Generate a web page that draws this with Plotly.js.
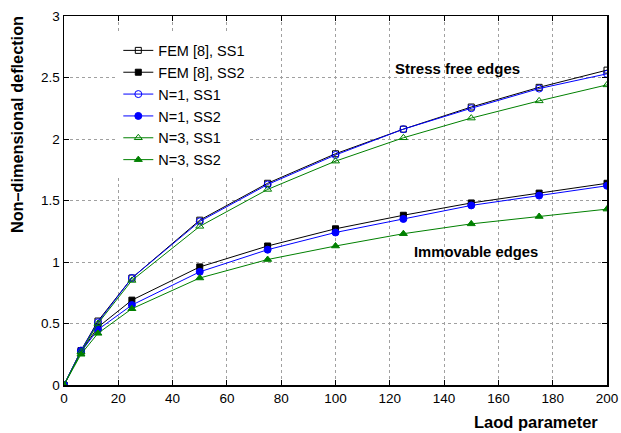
<!DOCTYPE html>
<html>
<head>
<meta charset="utf-8">
<script src="https://cdn.plot.ly/plotly-3.0.1.min.js"></script>
<style>html,body{margin:0;padding:0;background:#fff;}</style>
</head>
<body>
<div id="chart" style="width:621px;height:433px;"></div>
<script>
const loadParam = [0, 6.25, 12.5, 25, 50, 75, 100, 125, 150, 175, 200];
const femSS1 = [0, 0.28, 0.52, 0.87, 1.34, 1.64, 1.88, 2.08, 2.26, 2.42, 2.56];
const femSS2 = [0, 0.27, 0.47, 0.69, 0.96, 1.13, 1.27, 1.38, 1.48, 1.56, 1.64];
const n1SS1 = [0, 0.28, 0.51, 0.87, 1.33, 1.63, 1.87, 2.08, 2.25, 2.41, 2.53];
const n1SS2 = [0, 0.27, 0.45, 0.65, 0.92, 1.10, 1.24, 1.35, 1.46, 1.54, 1.62];
const n3SS1 = [0, 0.27, 0.50, 0.85, 1.29, 1.59, 1.82, 2.01, 2.17, 2.31, 2.44];
const n3SS2 = [0, 0.25, 0.42, 0.62, 0.87, 1.02, 1.13, 1.23, 1.31, 1.37, 1.43];
const seriesNames = ["FEM [8], SS1", "FEM [8], SS2", "N=1, SS1", "N=1, SS2", "N=3, SS1", "N=3, SS2"];
const xTicks = [0, 20, 40, 60, 80, 100, 120, 140, 160, 180, 200];
const yTicks = [0, 0.5, 1, 1.5, 2, 2.5, 3];
const yTickText = ["0", "0.5", "1", "1.5", "2", "2.5", "3"];

const green = "rgb(0,128,0)";
const blue = "rgb(0,0,255)";
function tr(y, name, color, symbol, size) {
  return {
    x: loadParam, y: y, name: name, type: "scatter", mode: "lines+markers",
    line: {color: color, width: 1},
    marker: {symbol: symbol, size: size, color: color, line: {color: color, width: 1}}
  };
}
const data = [
  tr(femSS1, seriesNames[0], "black", "square-open", 6),
  tr(femSS2, seriesNames[1], "black", "square", 6),
  tr(n1SS1, seriesNames[2], blue, "circle-open", 7),
  tr(n1SS2, seriesNames[3], blue, "circle", 7),
  tr(n3SS1, seriesNames[4], green, "triangle-up-open", 7),
  tr(n3SS2, seriesNames[5], green, "triangle-up", 7)
];
const axisCommon = {
  showline: true, mirror: "ticks", linecolor: "black", linewidth: 1.5,
  ticks: "inside", ticklen: 5, tickcolor: "black",
  showgrid: true, gridcolor: "rgb(160,160,160)", griddash: "dot", gridwidth: 1,
  zeroline: false, ticklabeloverflow: "allow",
  tickfont: {family: "Liberation Sans, Arial, sans-serif", size: 13.5, color: "black"}
};
const layout = {
  width: 621, height: 433,
  margin: {l: 64, r: 14, t: 16, b: 48},
  paper_bgcolor: "white", plot_bgcolor: "white",
  font: {family: "Liberation Sans, Arial, sans-serif", color: "black"},
  xaxis: Object.assign({}, axisCommon, {range: [0, 200], tickvals: xTicks}),
  yaxis: Object.assign({}, axisCommon, {range: [0, 3], tickvals: yTicks, ticktext: yTickText}),
  showlegend: true,
  legend: {x: 0.1, y: 0.95, xanchor: "left", yanchor: "top", bgcolor: "white", borderwidth: 0,
    font: {size: 14.5, color: "black"}, tracegroupgap: 0, itemwidth: 30},
  annotations: [
    {x: 0.988, xref: "paper", y: -0.0995, yref: "paper", xanchor: "right", yanchor: "middle", showarrow: false,
     text: "<b>Laod parameter</b>", font: {size: 16.5, color: "black"}},
    {x: -0.0866, xref: "paper", y: 0.707, yref: "paper", xanchor: "center", yanchor: "middle", showarrow: false,
     textangle: -90, text: "<b>Non\u2013dimensional deflection</b>", font: {size: 16.3, color: "black"}},
    {x: 121, y: 2.57, xanchor: "left", yanchor: "middle", showarrow: false, text: "<b>Stress free edges</b>", font: {size: 15, color: "black"}},
    {x: 128, y: 1.08, xanchor: "left", yanchor: "middle", showarrow: false, text: "<b>Immovable edges</b>", font: {size: 14.8, color: "black"}}
  ]
};
Plotly.newPlot("chart", data, layout, {displayModeBar: false, staticPlot: true});
</script>
</body>
</html>
